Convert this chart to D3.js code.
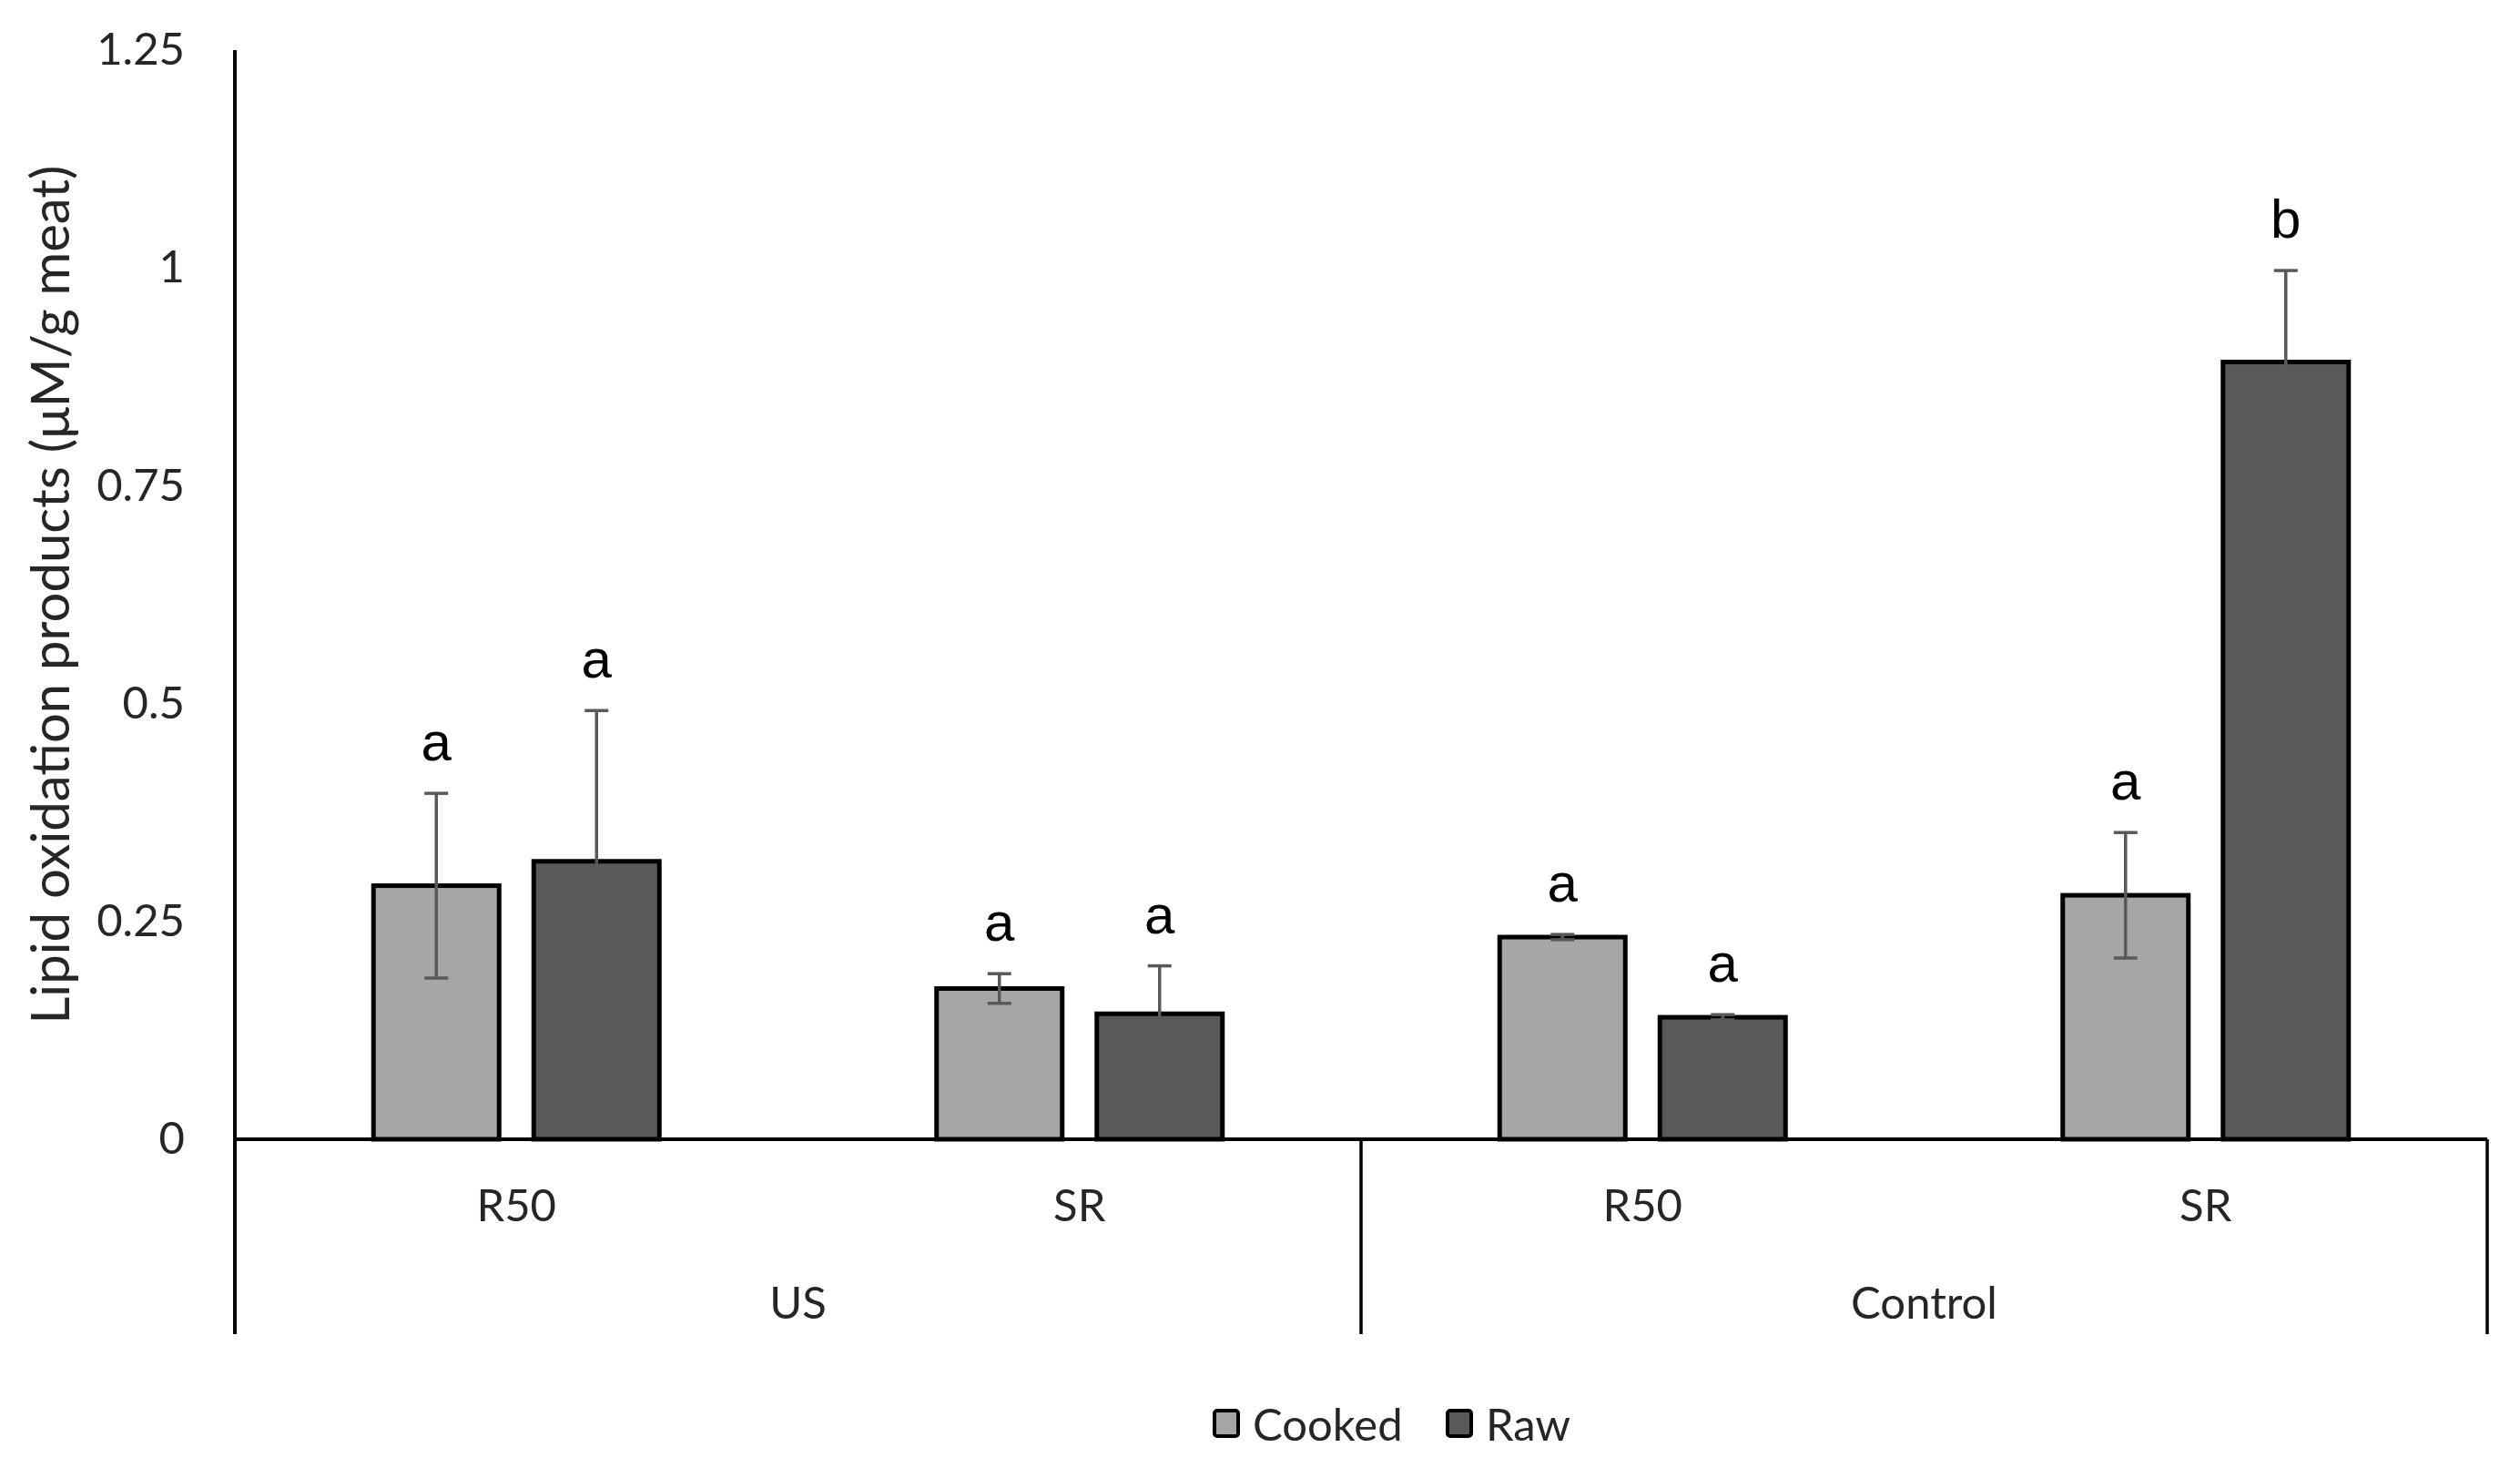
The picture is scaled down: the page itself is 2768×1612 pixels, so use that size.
<!DOCTYPE html>
<html>
<head>
<meta charset="utf-8">
<script src="https://cdn.jsdelivr.net/npm/d3@7/dist/d3.min.js"></script>
<style>
  html, body { margin: 0; padding: 0; background: #ffffff; }
  svg { display: block; }
</style>
</head>
<body>
<svg id="chart" width="2768" height="1612"></svg>
<script>
// ---- data ----
const groups = ["US", "Control"];
const subCategories = ["R50", "SR"];
const seriesNames = ["Cooked", "Raw"];
const cookedValues = [0.291, 0.173, 0.232, 0.280];
const rawValues = [0.319, 0.144, 0.140, 0.892];
const cookedErrors = [0.106, 0.017, 0.003, 0.072];
const rawErrors = [0.173, 0.055, 0.003, 0.105];
const cookedLetters = ["a", "a", "a", "a"];
const rawLetters = ["a", "a", "a", "b"];
const yTickValues = [0, 0.25, 0.5, 0.75, 1, 1.25];
const yTickLabels = ["0", "0.25", "0.5", "0.75", "1", "1.25"];
const yTitle = "Lipid oxidation products (\u03bcM/g meat)";

// ---- derived table ----
const categoryKeys = [];
groups.forEach(g => subCategories.forEach(s => categoryKeys.push(g + "|" + s)));
const rows = [];
categoryKeys.forEach((k, i) => {
  rows.push({cat: k, series: "Cooked", value: cookedValues[i], err: cookedErrors[i], letter: cookedLetters[i]});
  rows.push({cat: k, series: "Raw", value: rawValues[i], err: rawErrors[i], letter: rawLetters[i]});
});

// ---- layout ----
const left = 258, right = 2732, zeroY = 1251, topY = 55, catBottom = 1465;
const font = "Lato, 'Noto Sans', sans-serif";
const textColor = "#262626";
const colors = {Cooked: "#A6A6A6", Raw: "#595959"};

const svg = d3.select("#chart");

const y = d3.scaleLinear().domain([0, 1.25]).range([zeroY, topY]);
const x0 = d3.scaleBand().domain(categoryKeys).range([left, right]).paddingInner(0).paddingOuter(0);
const inner = 314;
const x1 = d3.scaleBand().domain(seriesNames).range([-inner / 2, inner / 2]).paddingInner(0.216).paddingOuter(0);
const xg = d3.scaleBand().domain(groups).range([left, right]);

// y axis labels
const yAxis = d3.axisLeft(y).tickValues(yTickValues)
  .tickFormat((d, i) => yTickLabels[i]).tickSize(0).tickPadding(55);
const yG = svg.append("g").attr("transform", `translate(${left},0)`).call(yAxis);
yG.select(".domain").remove();
yG.selectAll("text").attr("font-family", font).attr("font-size", 49).attr("fill", textColor);

// y title
svg.append("text")
  .attr("transform", `translate(53,${(zeroY + topY) / 2}) rotate(-90)`)
  .attr("text-anchor", "middle").attr("dominant-baseline", "central")
  .attr("font-family", font).attr("font-size", 58).attr("fill", textColor)
  .text(yTitle);

// bars
const barG = svg.append("g");
barG.selectAll("rect").data(rows).join("rect")
  .attr("x", d => x0(d.cat) + x0.bandwidth() / 2 + x1(d.series))
  .attr("y", d => y(d.value))
  .attr("width", x1.bandwidth())
  .attr("height", d => y(0) - y(d.value))
  .attr("fill", d => colors[d.series])
  .attr("stroke", "#000").attr("stroke-width", 5);

// error bars
const errG = svg.append("g").attr("stroke", "#595959").attr("stroke-width", 3.5);
const cx = d => x0(d.cat) + x0.bandwidth() / 2 + x1(d.series) + x1.bandwidth() / 2;
const capW = 13;
rows.forEach(d => {
  const g = errG.append("g");
  g.append("line").attr("x1", cx(d)).attr("x2", cx(d)).attr("y1", y(d.value - d.err)).attr("y2", y(d.value + d.err));
  g.append("line").attr("x1", cx(d) - capW).attr("x2", cx(d) + capW).attr("y1", y(d.value + d.err)).attr("y2", y(d.value + d.err));
  g.append("line").attr("x1", cx(d) - capW).attr("x2", cx(d) + capW).attr("y1", y(d.value - d.err)).attr("y2", y(d.value - d.err));
});

// letters
svg.append("g").selectAll("text").data(rows).join("text")
  .attr("x", d => cx(d))
  .attr("y", d => y(d.value + d.err) - 36)
  .attr("text-anchor", "middle")
  .attr("font-family", "'Liberation Sans', Arial, sans-serif")
  .attr("font-size", 60).attr("fill", "#000")
  .text(d => d.letter);

// axes lines
svg.append("line").attr("x1", left).attr("x2", left).attr("y1", topY).attr("y2", catBottom)
  .attr("stroke", "#000").attr("stroke-width", 4);
svg.append("line").attr("x1", left).attr("x2", right).attr("y1", zeroY).attr("y2", zeroY)
  .attr("stroke", "#000").attr("stroke-width", 4);
// group separators
const sepX = [left].concat(groups.map(g => xg(g) + xg.bandwidth()));
svg.append("g").selectAll("line").data(sepX).join("line")
  .attr("x1", d => d).attr("x2", d => d).attr("y1", zeroY).attr("y2", catBottom)
  .attr("stroke", "#000").attr("stroke-width", 3.5);

// sub-category labels
const xAxis = d3.axisBottom(x0).tickSize(0).tickPadding(0).tickFormat(k => k.split("|")[1]);
const xG = svg.append("g").attr("transform", `translate(0,${zeroY})`).call(xAxis);
xG.select(".domain").remove();
xG.selectAll("text").attr("font-family", font).attr("font-size", 49).attr("fill", textColor)
  .attr("dy", null).attr("y", 90);

// group labels
const gAxis = d3.axisBottom(xg).tickSize(0).tickPadding(0);
const gG = svg.append("g").attr("transform", `translate(0,${zeroY})`).call(gAxis);
gG.select(".domain").remove();
gG.selectAll("text").attr("font-family", font).attr("font-size", 49).attr("fill", textColor)
  .attr("dy", null).attr("y", 197);

// legend
const legendItems = [
  {name: "Cooked", x: 1334},
  {name: "Raw", x: 1590}
];
const lg = svg.append("g");
legendItems.forEach(it => {
  lg.append("rect").attr("x", it.x).attr("y", 1549).attr("width", 26).attr("height", 28)
    .attr("rx", 3).attr("fill", colors[it.name]).attr("stroke", "#000").attr("stroke-width", 4);
  lg.append("text").attr("x", it.x + 42).attr("y", 1563).attr("dominant-baseline", "central")
    .attr("font-family", font).attr("font-size", 49).attr("fill", textColor).text(it.name);
});
</script>
</body>
</html>
